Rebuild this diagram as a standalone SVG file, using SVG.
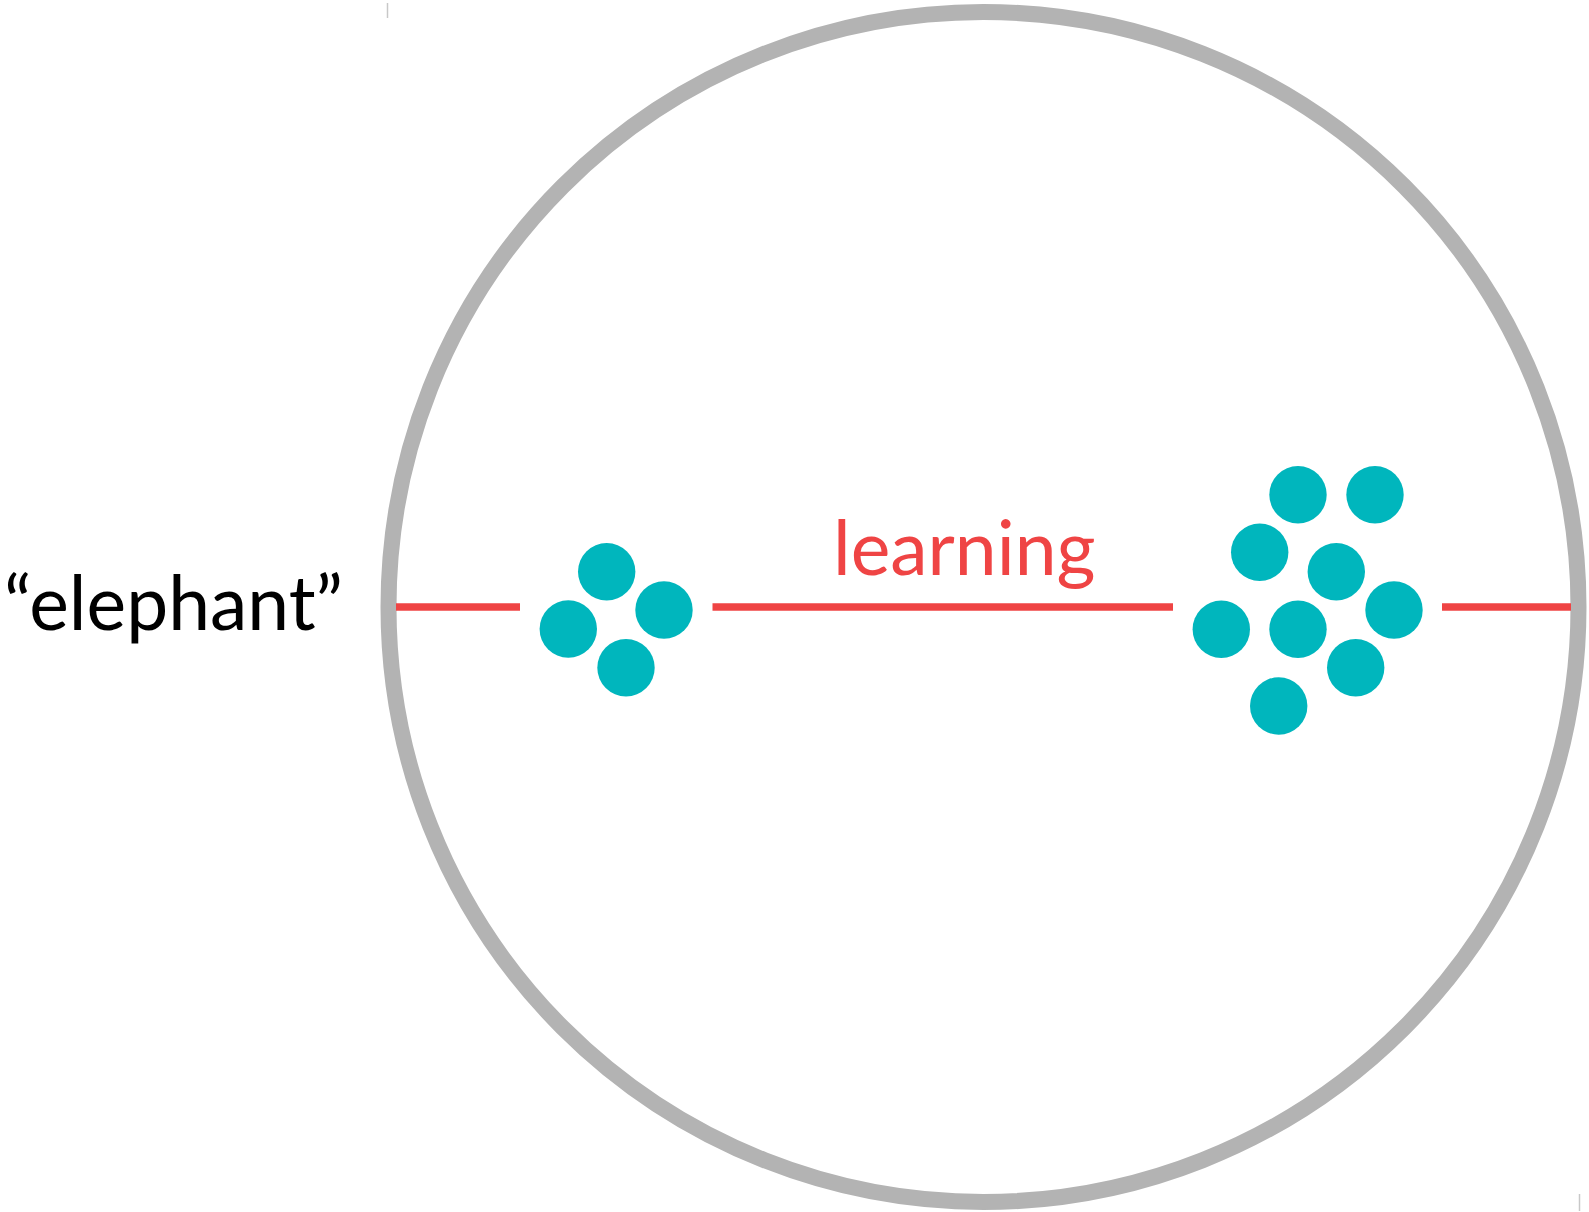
<svg xmlns="http://www.w3.org/2000/svg" width="1589" height="1212" viewBox="0 0 1589 1212">
<style>
.ring{fill:none;stroke:#b3b3b3;stroke-width:16}
.edge{stroke:#ef4444;stroke-width:7.5;fill:none}
.dot{fill:#00b6bd}
.tick{stroke:#c8c8c8;stroke-width:1.5}
.lbl{font-family:Lato,"Open Sans","Liberation Sans",sans-serif}
</style>
<rect width="1589" height="1212" fill="#ffffff"/>
<line class="tick" x1="387.5" y1="3" x2="387.5" y2="18"/>
<line class="tick" x1="1579.5" y1="1194" x2="1579.5" y2="1211"/>
<g id="ring"><circle class="ring" cx="983.5" cy="607" r="595"/></g>
<g id="connectors">
<line class="edge" x1="396" y1="607" x2="520" y2="607"/>
<line class="edge" x1="712.5" y1="607" x2="1173" y2="607"/>
<line class="edge" x1="1442" y1="607" x2="1571" y2="607"/>
</g>
<g id="label-elephant"><text class="lbl" x="4" y="630" font-size="75" fill="#000000">“elephant”</text></g>
<g id="label-learning"><text class="lbl" x="833" y="575" font-size="75" fill="#ef4444">learning</text></g>
<g id="cluster-small">
<circle class="dot" cx="606.7" cy="571.7" r="28.7"/>
<circle class="dot" cx="664" cy="610" r="28.7"/>
<circle class="dot" cx="568.3" cy="629" r="28.7"/>
<circle class="dot" cx="626" cy="667.7" r="28.7"/>
</g>
<g id="cluster-large">
<circle class="dot" cx="1298" cy="494.7" r="28.7"/>
<circle class="dot" cx="1375" cy="494.7" r="28.7"/>
<circle class="dot" cx="1259.7" cy="552.3" r="28.7"/>
<circle class="dot" cx="1336.3" cy="571.7" r="28.7"/>
<circle class="dot" cx="1394" cy="610" r="28.7"/>
<circle class="dot" cx="1221.3" cy="629.3" r="28.7"/>
<circle class="dot" cx="1298" cy="629.3" r="28.7"/>
<circle class="dot" cx="1355.7" cy="667.7" r="28.7"/>
<circle class="dot" cx="1278.7" cy="706" r="28.7"/>
</g>
</svg>
